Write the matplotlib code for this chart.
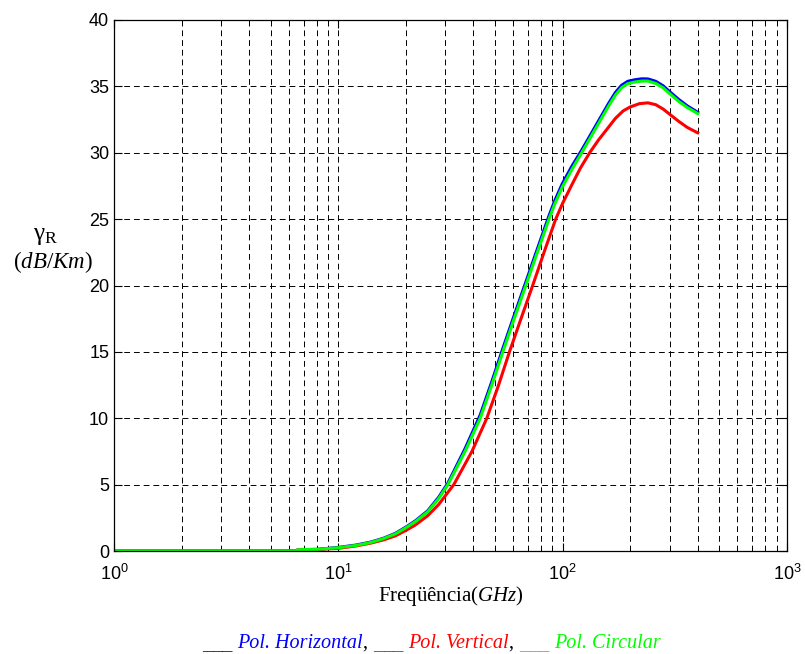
import numpy as np
import matplotlib
matplotlib.use("Agg")
import matplotlib.pyplot as plt
from matplotlib.ticker import LogLocator, LogFormatterMathtext, MultipleLocator, NullFormatter
from matplotlib.transforms import offset_copy

plt.rcParams['font.family'] = ['Liberation Sans', 'DejaVu Sans']
plt.rcParams['mathtext.fontset'] = 'custom'
plt.rcParams['mathtext.rm'] = 'Liberation Serif'
plt.rcParams['mathtext.it'] = 'Liberation Serif:italic'
plt.rcParams['mathtext.default'] = 'regular'

# frequency (GHz) and specific attenuation (dB/Km)
freq_hc = [1, 2, 4, 6.5, 6.6, 8, 10, 12, 14, 16, 18, 20, 22, 25, 28, 30.8, 36.7, 42.9,
           48.3, 54.1, 60.8, 68.5, 77.1, 86.9, 92, 99.5, 110, 121.6, 147.9, 160, 172,
           183, 195, 210, 225, 240, 260, 280, 300, 330, 360, 400]
pol_horizontal = [0, 0, 0, 0, 0.1, 0.12, 0.27, 0.45, 0.68, 0.98, 1.34, 1.8, 2.26, 3.02,
                  4.05, 5.12, 7.7, 10.25, 12.75, 15.25, 17.75, 20.25, 22.75, 25.25, 26.35,
                  27.65, 29.0, 30.2, 32.7, 33.7, 34.55, 35.08, 35.38, 35.5, 35.57, 35.56,
                  35.38, 35.05, 34.6, 34.0, 33.52, 33.05]
pol_circular = [0, 0, 0, 0, 0.1, 0.12, 0.25, 0.42, 0.65, 0.95, 1.3, 1.75, 2.2, 2.95,
                3.95, 5.0, 7.5, 10.0, 12.5, 15.0, 17.5, 20.0, 22.5, 25.0, 26.1,
                27.4, 28.75, 30.0, 32.5, 33.5, 34.35, 34.9, 35.2, 35.33, 35.4, 35.4,
                35.22, 34.9, 34.45, 33.85, 33.4, 32.95]

freq_v = [1, 2, 4, 6.5, 6.6, 8, 10, 12, 14, 16, 18, 20, 22, 25, 28, 32.7, 39.4, 45.9,
          51.8, 57.9, 65.2, 73.5, 82.6, 93.1, 100, 109.6, 120, 132.5, 145, 158, 172,
          186, 200, 220, 240, 260, 280, 300, 330, 360, 400]
pol_vertical = [0, 0, 0, 0, 0.1, 0.12, 0.2, 0.38, 0.6, 0.85, 1.15, 1.55, 1.95, 2.65, 3.5,
                5.0, 7.5, 10.0, 12.5, 15.0, 17.5, 20.0, 22.5, 25.0, 26.2, 27.55, 28.85,
                30.05, 31.0, 31.8, 32.6, 33.15, 33.45, 33.7, 33.76, 33.62, 33.3, 32.9,
                32.35, 31.9, 31.5]

fig = plt.figure(figsize=(8.05, 6.54), dpi=100)
ax = fig.add_axes([114/805, 1 - 551/654, (787-114)/805, (551-20)/654])

ax.plot(freq_hc, pol_horizontal, color='#0000ff', lw=2.2)
ax.plot(freq_v, pol_vertical, color='#ff0000', lw=2.2)
ax.plot(freq_hc, pol_circular, color='#00ff00', lw=2.2)

ax.set_xscale('log')
ax.set_xlim(1, 1000)
ax.set_ylim(0, 40)
ax.xaxis.set_major_locator(LogLocator(base=10))
ax.xaxis.set_major_formatter(LogFormatterMathtext())
ax.xaxis.set_minor_locator(LogLocator(base=10, subs=np.arange(2, 10)))
ax.xaxis.set_minor_formatter(NullFormatter())
ax.yaxis.set_major_locator(MultipleLocator(5))

ax.grid(True, which='major', color='k', ls=(0, (6, 4)), lw=0.7)
ax.grid(True, which='minor', axis='x', color='k', ls=(0, (6, 4)), lw=0.7)
ax.tick_params(which='both', direction='in', top=True, right=True, labelsize=13)
ax.tick_params(which='major', length=6)
ax.tick_params(axis='x', which='major', pad=9)
ax.tick_params(which='minor', length=3)
for s in ax.spines.values():
    s.set_linewidth(0.9)

ax.set_xlabel(r'Freqüência$\mathit{(GHz)}$', family='Liberation Serif', fontsize=15, labelpad=0)

fig.text(46/805, 1 - 236/654, r'γ$_\mathrm{R}$', family='Liberation Serif', fontsize=18,
         ha='center', va='center')
fig.text(53/805, 1 - 262/654, r'($\mathit{dB/Km}$)', family='Liberation Serif', fontsize=16.5,
         ha='center', va='center')

# legend as coloured text pieces
pieces = [('___ ', '#0000ff', 'normal'), ('Pol. Horizontal', '#0000ff', 'italic'), (', ', 'k', 'normal'),
          ('___ ', '#ff0000', 'normal'), ('Pol. Vertical', '#ff0000', 'italic'), (', ', 'k', 'normal'),
          ('___ ', '#00ff00', 'normal'), ('Pol. Circular', '#00ff00', 'italic')]
fig.canvas.draw()
renderer = fig.canvas.get_renderer()
x0 = 202 / 805
y0 = 1 - 648 / 654
trans = fig.transFigure
for txt, col, sty in pieces:
    t = fig.text(x0, y0, txt, color=col, style=sty, family='Liberation Serif', fontsize=14.5,
                 transform=trans, ha='left', va='baseline')
    bb = t.get_window_extent(renderer)
    trans = offset_copy(trans, fig=fig, x=bb.width, units='dots')

fig.savefig('out.png', dpi=100)
